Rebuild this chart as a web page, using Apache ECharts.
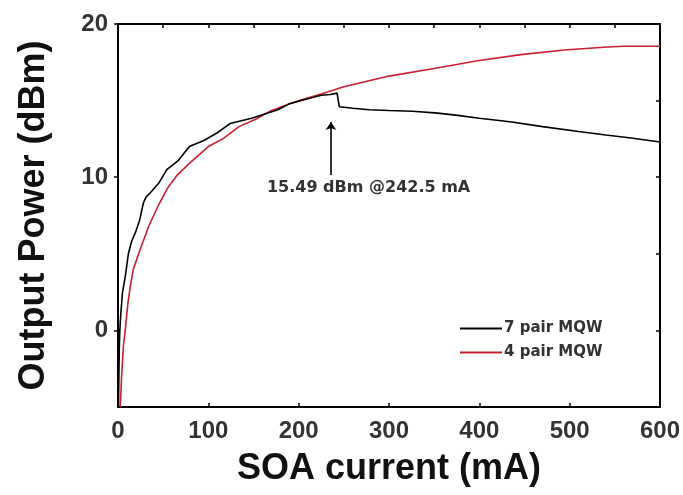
<!DOCTYPE html>
<html>
<head>
    <meta charset="utf-8">
    <script src="https://cdn.jsdelivr.net/npm/echarts@6/dist/echarts.min.js"></script>
    <style>
        html, body { margin: 0; padding: 0; background: #fff; }
        #main { width: 683px; height: 495px; }
    </style>
</head>
<body>
<div id="main"></div>
<script>
    // SOA current (mA) vs output power (dBm)
    var pair7 = [
        [0.5, -5], [1, -3], [1.5, -1], [2, 0], [3, 1], [5, 2.5], [8, 3.5], [11.5, 5],
        [15, 5.8], [20, 6.5], [24, 7.2], [28, 8.3], [31, 8.7], [36, 9], [45, 9.6],
        [54, 10.5], [67, 11.1], [79, 12.0], [95, 12.4], [110, 12.9], [124, 13.5],
        [148, 13.85], [177, 14.4], [190, 14.8], [206, 15.05], [225, 15.35], [235, 15.4],
        [242.5, 15.49], [245, 14.6], [260, 14.5], [278, 14.4], [300, 14.35], [326, 14.3],
        [351, 14.2], [374, 14.05], [400, 13.85], [422, 13.7], [436, 13.6], [470, 13.3],
        [510, 12.98], [540, 12.75], [568, 12.56], [600, 12.3]
    ];
    var pair4 = [
        [2.5, -5], [4, -3], [6, -1], [8, 0], [11, 1.8], [14, 3], [17, 4], [24, 5.2],
        [34, 6.8], [45, 8.2], [55, 9.3], [65, 10.1], [79, 10.9], [100, 12.0], [116, 12.5],
        [134, 13.3], [153, 13.8], [168, 14.3], [190, 14.8], [206, 15.1], [226, 15.45],
        [250, 15.9], [278, 16.3], [300, 16.6], [350, 17.1], [398, 17.6], [446, 18.0],
        [494, 18.3], [542, 18.5], [560, 18.55], [600, 18.55]
    ];
    var seriesNames = ['7 pair MQW', '4 pair MQW'];
    var yLabelValues = [0, 10, 20];

    // annotation: arrow pointing at the 7 pair peak, and its note
    var arrowFrom = [235.7, 10.15];
    var arrowTo = [235.7, 13.6];
    var noteAt = [277.4, 9.3];
    var noteText = '15.49 dBm @242.5 mA';

    var chart = echarts.init(document.getElementById('main'), null, {renderer: 'canvas'});

    var axisFont = {
        fontFamily: 'Liberation Sans, Arial, sans-serif',
        fontWeight: 'bold',
        fontSize: 24,
        color: '#333'
    };
    var nameFont = {
        fontFamily: 'Liberation Sans, Arial, sans-serif',
        fontWeight: 'bold',
        fontSize: 36,
        color: '#111'
    };
    var frameLine = {show: true, onZero: false, lineStyle: {color: '#000', width: 2}};
    var tickIn = {show: true, inside: true, length: 4, lineStyle: {color: '#000', width: 1.5}};

    var option = {
        backgroundColor: '#fff',
        animation: false,
        grid: {left: 118, right: 21, top: 24, bottom: 88},
        legend: {
            data: seriesNames,
            orient: 'vertical',
            left: 455,
            top: 316,
            icon: 'rect',
            itemWidth: 42,
            itemHeight: 2,
            itemGap: 9,
            textStyle: {
                fontFamily: 'DejaVu Sans, sans-serif',
                fontWeight: 'bold',
                fontSize: 15,
                color: '#333',
                padding: [0, 0, 0, -3]
            }
        },
        xAxis: [{
            type: 'value',
            min: 0,
            max: 600,
            interval: 100,
            name: 'SOA current (mA)',
            nameLocation: 'middle',
            nameGap: 44,
            nameTextStyle: nameFont,
            axisLine: frameLine,
            axisTick: tickIn,
            axisLabel: Object.assign({margin: 12}, axisFont),
            splitLine: {show: false}
        }, {
            type: 'value',
            position: 'top',
            min: 0,
            max: 600,
            interval: 50,
            axisLine: frameLine,
            axisTick: tickIn,
            axisLabel: {show: false},
            splitLine: {show: false}
        }],
        yAxis: [{
            type: 'value',
            min: -5,
            max: 20,
            interval: 5,
            name: 'Output Power (dBm)',
            nameLocation: 'middle',
            nameGap: 66,
            nameTextStyle: nameFont,
            axisLine: frameLine,
            axisTick: {
                show: true, inside: false, length: 4,
                customValues: yLabelValues,
                lineStyle: {color: '#000', width: 1.5}
            },
            axisLabel: Object.assign({
                margin: 10,
                customValues: yLabelValues
            }, axisFont),
            splitLine: {show: false}
        }, {
            type: 'value',
            position: 'right',
            min: -5,
            max: 20,
            interval: 5,
            axisLine: frameLine,
            axisTick: tickIn,
            axisLabel: {show: false},
            splitLine: {show: false}
        }],
        series: [{
            name: seriesNames[0],
            type: 'line',
            data: pair7,
            symbol: 'none',
            color: '#000',
            lineStyle: {color: '#000', width: 1.6},
            z: 3,
            markLine: {
                silent: true,
                symbol: ['none', 'arrow'],
                symbolSize: 8,
                lineStyle: {color: '#000', width: 1.6, type: 'solid'},
                label: {show: false},
                data: [[{coord: arrowFrom}, {coord: arrowTo}]]
            },
            markPoint: {
                silent: true,
                symbol: 'rect',
                symbolSize: 1,
                itemStyle: {color: 'rgba(0,0,0,0)'},
                label: {
                    show: true,
                    position: 'inside',
                    formatter: noteText,
                    fontFamily: 'DejaVu Sans, sans-serif',
                    fontWeight: 'bold',
                    fontSize: 16,
                    color: '#333'
                },
                data: [{coord: noteAt}]
            }
        }, {
            name: seriesNames[1],
            type: 'line',
            data: pair4,
            symbol: 'none',
            color: '#c8202f',
            lineStyle: {color: '#c8202f', width: 1.6},
            z: 2
        }]
    };

    chart.setOption(option);
</script>
</body>
</html>
